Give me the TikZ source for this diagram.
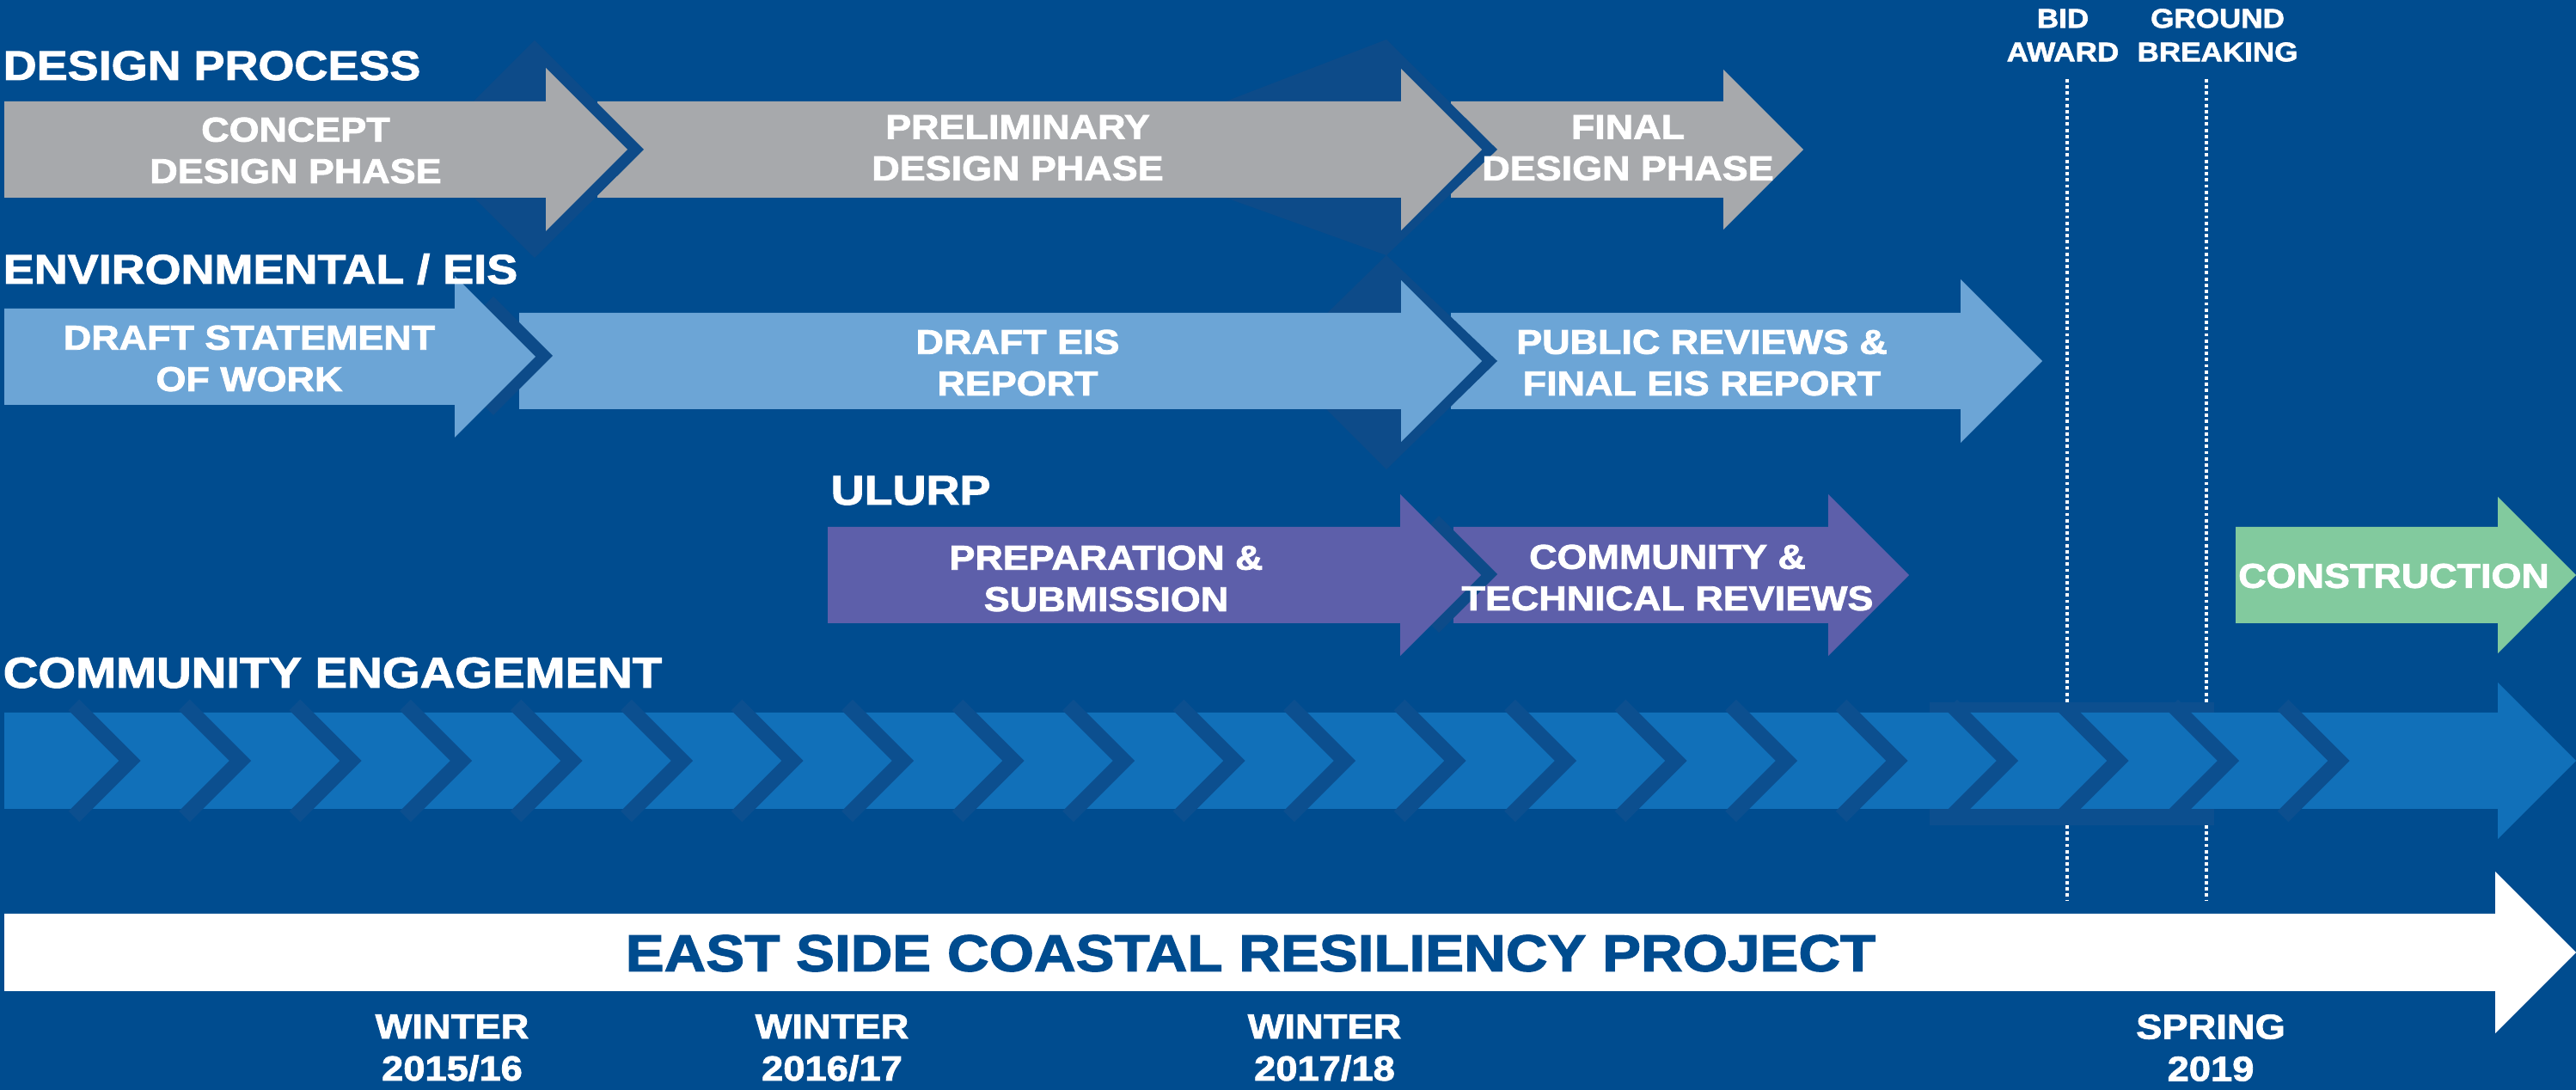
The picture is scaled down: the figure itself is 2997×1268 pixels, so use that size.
\documentclass[tikz,border=0pt]{standalone}
\usepackage{fontspec}
\setmainfont{Liberation Sans}[FakeStretch=1.12, BoldFeatures={FakeBold=2}]
\definecolor{bg}{RGB}{0,76,143}
\definecolor{shd}{RGB}{13,75,137}
\definecolor{chev}{RGB}{12,79,143}
\definecolor{greyA}{RGB}{167,169,172}
\definecolor{lblue}{RGB}{108,165,214}
\definecolor{purp}{RGB}{93,95,170}
\definecolor{grn}{RGB}{130,202,158}
\definecolor{bandc}{RGB}{17,112,185}
% color, x0, body end, tip x, body top, body bottom
\newcommand\tlarrow[6]{%
  \fill[#1] (#2,#5) -- (#3,#5) -- (#3,{(#5+#6)/2-(#4-#3)}) -- (#4,{(#5+#6)/2})
    -- (#3,{(#5+#6)/2+(#4-#3)}) -- (#3,#6) -- (#2,#6) -- cycle;}
\begin{document}
\begin{tikzpicture}[x=0.01cm,y=-0.01cm,
  hd/.style={font=\fontsize{13.7pt}{16pt}\selectfont\bfseries, text=white, inner sep=0, anchor=base west},
  lb/.style={font=\fontsize{11.4pt}{13.7pt}\selectfont\bfseries, text=white, align=center, inner sep=0},
  dt/.style={font=\fontsize{11.5pt}{13.9pt}\selectfont\bfseries, text=white, align=center, inner sep=0},
  ms/.style={font=\fontsize{8.9pt}{11.1pt}\selectfont\bfseries, text=white, align=center, inner sep=0},
  ttl/.style={font=\fontsize{17.1pt}{20pt}\selectfont\bfseries, text=bg, inner sep=0},
  dotline/.style={white, line width=1.1pt, dash pattern=on 1.1pt off 0.95pt},
  chevline/.style={chev, line width=5.1pt, miter limit=10}]
\fill[bg] (0,0) rectangle (2997,1268);
\useasboundingbox (0,0) rectangle (2997,1268);

% ---------- design process row
\tlarrow{greyA}{1688}{2005}{2098}{118}{230}
\fill[shd] (1426,118) -- (1613,46) -- (1742,174) -- (1613,297) -- (1426,230) -- cycle;
\tlarrow{greyA}{695}{1630}{1724}{118}{230}
\fill[shd] (622,47) -- (749,174) -- (622,300) -- (495,174) -- cycle;
\tlarrow{greyA}{5}{635}{730}{118}{230}

% ---------- environmental row
\tlarrow{lblue}{1688}{2281}{2376}{364}{476}
\fill[shd] (1613,297) -- (1742,420) -- (1613,546) -- (1487,420) -- cycle;
\tlarrow{lblue}{604}{1630}{1724}{364}{476}
\fill[shd] (574,345) -- (643,414) -- (574,483) -- (557,466) -- (605,414) -- (557,362) -- cycle;
\tlarrow{lblue}{5}{529}{623}{359}{471}

% ---------- ULURP row
\tlarrow{purp}{1691}{2127}{2221}{613}{725}
\fill[shd] (1674,600) -- (1742,668) -- (1674,736) -- (1657,719) -- (1705,668) -- (1657,617) -- cycle;
\tlarrow{purp}{963}{1629}{1723}{613}{725}
\tlarrow{grn}{2601}{2906}{2997}{613}{725}

% ---------- community engagement band
\fill[chev] (2245,817) rectangle (2576,960);
\tlarrow{bandc}{5}{2906}{2997}{829}{941}
\foreach \k in {0,...,20}
  \draw[chevline] ({151+128.5*\k-65},820) -- ({151+128.5*\k},885) -- ({151+128.5*\k-65},950);

% ---------- project arrow
\tlarrow{white}{5}{2903}{2997}{1063}{1153}

% ---------- milestone dotted lines
\coordinate (bidA) at (2405,92);
\coordinate (bidB) at (2405,817);
\coordinate (bidC) at (2405,960);
\coordinate (bidD) at (2405,1047);
\coordinate (grdA) at (2567,92);
\coordinate (grdB) at (2567,817);
\coordinate (grdC) at (2567,960);
\coordinate (grdD) at (2567,1047);
\draw[dotline] (bidA) -- (bidB);
\draw[dotline] (bidC) -- (bidD);
\draw[dotline] (grdA) -- (grdB);
\draw[dotline] (grdC) -- (grdD);

% ---------- headings
\node[hd] (hdesign) at (3,93) {DESIGN PROCESS};
\node[hd] (henv) at (3,330) {ENVIRONMENTAL / EIS};
\node[hd] (hulurp) at (966,587) {ULURP};
\node[hd, font=\fontsize{14.3pt}{16pt}\selectfont\bfseries] (hcomm) at (3,800) {COMMUNITY ENGAGEMENT};

% ---------- labels
\node[lb] (lconcept) at (344,175) {CONCEPT\\DESIGN PHASE};
\node[lb] (lprelim) at (1184,172) {PRELIMINARY\\DESIGN PHASE};
\node[lb] (lfinal) at (1894,172) {FINAL\\DESIGN PHASE};
\node[lb] (lsow) at (290,417) {DRAFT STATEMENT\\OF WORK};
\node[lb] (leis) at (1184,422) {DRAFT EIS\\REPORT};
\node[lb] (lpub) at (1980,422) {PUBLIC REVIEWS \&\\FINAL EIS REPORT};
\node[lb] (lprep) at (1287,673) {PREPARATION \&\\SUBMISSION};
\node[lb] (lcomrev) at (1940,672) {COMMUNITY \&\\TECHNICAL REVIEWS};
\node[lb] (lconst) at (2785,670) {CONSTRUCTION};

\node[ms] (mbid) at (2400,41) {BID\\AWARD};
\node[ms] (mgrd) at (2580,41) {GROUND\\BREAKING};

\node[ttl] (title) at (1455,1109) {EAST SIDE COASTAL RESILIENCY PROJECT};

\node[dt] (d1) at (526,1219) {WINTER\\2015/16};
\node[dt] (d2) at (968,1219) {WINTER\\2016/17};
\node[dt] (d3) at (1541,1219) {WINTER\\2017/18};
\node[dt] (d4) at (2572,1219) {SPRING\\2019};
\end{tikzpicture}
\end{document}
